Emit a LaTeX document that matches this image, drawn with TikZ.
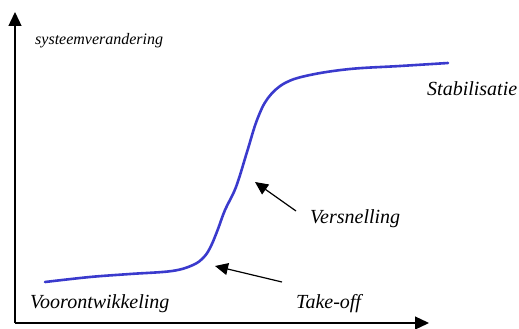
\documentclass[tikz,border=0pt]{standalone}
\usepackage{fontspec}
\setmainfont{Liberation Serif}[ItalicFont={Liberation Serif Italic}]
\usetikzlibrary{arrows.meta}
\definecolor{curveblue}{RGB}{58,58,205}
\tikzset{
  axis/.style={line width=1.3pt,-{Triangle[length=14pt,width=13pt]}},
  pointer/.style={line width=1.2pt,-{Triangle[length=13pt,width=12pt]}},
  lab/.style={font=\fontsize{20}{22}\selectfont\itshape,anchor=base west,inner sep=0pt},
  smalllab/.style={font=\fontsize{16}{18}\selectfont\itshape,anchor=base west,inner sep=0pt}
}
\begin{document}
\begin{tikzpicture}[x=1pt,y=-1pt]
\useasboundingbox (0,0) rectangle (519,329);
\coordinate (origin) at (15,323);
\coordinate (ytip) at (15,12);
\coordinate (xtip) at (429,323);
\draw[axis] (origin) -- (ytip);
\draw[axis] (origin) -- (xtip);
\node[smalllab] (ylab) at (35,45) {systeemverandering};
\draw[curveblue,line width=2.6pt,line cap=round] plot[smooth,tension=0.6] coordinates {
 (45,282) (90,277) (130,274) (172,271) (193,265) (204,257) (211,246) (218,229) (225,210) (236,187) (247,152) (257,120) (268,98) (285,83) (310,75) (350,69) (400,66) (448,63)};
\node[lab] (voor) at (30,308) {Voorontwikkeling};
\node[lab] (take) at (296,308) {Take-off};
\node[lab] (vers) at (310,223) {Versnelling};
\node[lab] (stab) at (427,95) {Stabilisatie};
\coordinate (taketail) at (282,282);
\coordinate (taketip) at (215,266);
\coordinate (verstail) at (296,211);
\coordinate (verstip) at (255,182);
\draw[pointer] (taketail) -- (taketip);
\draw[pointer] (verstail) -- (verstip);
\end{tikzpicture}
\end{document}
